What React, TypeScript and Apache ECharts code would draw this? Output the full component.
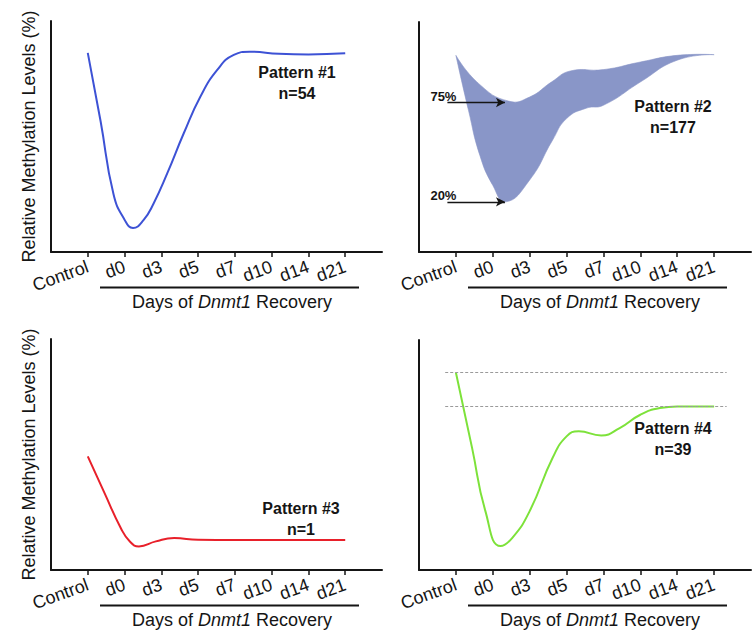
import React, { useEffect, useRef } from 'react';
import * as echarts from 'echarts';

// ---- data ----
const categories = ['Control', 'd0', 'd3', 'd5', 'd7', 'd10', 'd14', 'd21'];
const tickPositions = [0, 1, 2, 3, 4, 5, 6, 7];

// Pattern #1 (blue)
const p1X = [0, 0.35, 0.7, 1.0, 1.23, 1.52, 1.79, 2.16, 2.61, 3.06, 3.52, 3.97, 4.4, 5.2, 6, 7];
const p1Y = [86.2, 56.5, 25, 14, 10.4, 13.9, 21, 34, 51.4, 67.2, 78.8, 85.3, 86.7, 85.8, 85.5, 86];

// Pattern #2 (band between 75% and 20% curves)
const p2UpperX = [0, 0.62, 1.43, 2, 2.6, 3.1, 4, 5, 6, 7];
const p2UpperY = [85.5, 73.2, 65.6, 67.4, 74, 78.7, 79.3, 82.6, 85.5, 85.8];
const p2LowerX = [0, 0.34, 0.65, 1, 1.35, 2, 2.62, 3, 3.53, 4, 5, 6, 7];
const p2LowerY = [85.5, 61.7, 42, 29, 21.8, 31.3, 48.6, 58, 62.5, 63.8, 73.9, 83.4, 85.8];
const p2ArrowLabels = ['75%', '20%'];
const p2ArrowLevels = [65.0, 21.8];
const p2ArrowFrom = -0.23;
const p2ArrowTo = [1.33, 1.33];

// Pattern #3 (red)
const p3X = [0, 0.45, 0.9, 1.15, 1.39, 1.85, 2.35, 3, 4, 7];
const p3Y = [49.2, 33.5, 18.1, 12.2, 10.2, 12.4, 13.8, 13.1, 13, 13];

// Pattern #4 (green)
const p4X = [0, 0.44, 0.8, 1.21, 1.53, 2, 2.62, 3, 3.33, 3.94, 4.44, 5, 5.53, 6, 7];
const p4Y = [85.9, 53, 25.6, 10.4, 14, 25.6, 48.7, 58.1, 60.3, 58.5, 61.7, 67.5, 70.4, 71.1, 71.1];
const p4RefLevels = [85.9, 71.4];
const p4RefFrom = -0.29;
const p4RefTo = 7.34;

const patternTitles = ['Pattern #1', 'Pattern #2', 'Pattern #3', 'Pattern #4'];
const patternCounts = ['n=54', 'n=177', 'n=1', 'n=39'];

const yTitle = 'Relative Methylation Levels (%)';

// ---- layout ----
const FONT = '"Liberation Sans", Arial, Helvetica, sans-serif';
const INK = '#151515';
const SMOOTH = 0.5;
const grids = [
  { left: 51, top: 21, width: 331, height: 231 },
  { left: 419, top: 22, width: 332, height: 230 },
  { left: 51, top: 339, width: 331, height: 231 },
  { left: 419, top: 340, width: 332, height: 230 },
];
const patternPos = [
  [297, 82.5],
  [673, 116.7],
  [301, 518.7],
  [673, 439],
];

const pairs = (xs: number[], ys: number[]) => xs.map((x, i) => [x, ys[i]]);

// bezier control points (same scheme as ECharts line smoothing)
function controlPoints(pts: number[][], smooth: number) {
  const n = pts.length;
  const cin: number[][] = [];
  const cout: number[][] = [];
  for (let i = 0; i < n; i++) {
    const [x, y] = pts[i];
    if (i === 0 || i === n - 1) {
      cin[i] = [x, y];
      cout[i] = [x, y];
      continue;
    }
    const [px, py] = pts[i - 1];
    const [nx, ny] = pts[i + 1];
    const vx = nx - px;
    const vy = ny - py;
    const d0 = Math.hypot(x - px, y - py);
    const d1 = Math.hypot(nx - x, ny - y);
    const r = d1 / (d0 + d1 || 1);
    cin[i] = [x - vx * smooth * (1 - r), y - vy * smooth * (1 - r)];
    cout[i] = [x + vx * smooth * r, y + vy * smooth * r];
  }
  return { cin, cout };
}

function bandPath(up: number[][], lo: number[][], smooth: number) {
  const a = controlPoints(up, smooth);
  const b = controlPoints(lo, smooth);
  const f = (p: number[]) => p[0].toFixed(2) + ' ' + p[1].toFixed(2);
  let d = 'M' + f(up[0]);
  for (let i = 0; i < up.length - 1; i++) {
    d += ' C' + f(a.cout[i]) + ' ' + f(a.cin[i + 1]) + ' ' + f(up[i + 1]);
  }
  d += ' L' + f(lo[lo.length - 1]);
  for (let i = lo.length - 1; i > 0; i--) {
    d += ' C' + f(b.cin[i]) + ' ' + f(b.cout[i - 1]) + ' ' + f(lo[i - 1]);
  }
  d += ' Z';
  return d;
}

export default function App() {
  const ref = useRef<HTMLDivElement>(null);
  useEffect(() => {
    if (!ref.current) return;
    const chart = echarts.init(ref.current, null, { renderer: 'svg' });

    const xAxes = grids.map((_, i) => ({
      type: 'value',
      gridIndex: i,
      min: -1,
      max: 8,
      z: 10,
      splitLine: { show: false },
      axisLine: { show: true, onZero: false, lineStyle: { color: INK, width: 2 } },
      axisTick: { show: true, customValues: tickPositions, length: 5, lineStyle: { color: INK, width: 1.5 } },
      axisLabel: {
        show: true,
        customValues: tickPositions,
        formatter: (v: number) => categories[Math.round(v)] ?? '',
        rotate: 20,
        margin: 14,
        fontSize: 18,
        fontFamily: FONT,
        color: INK,
      },
    }));

    const yAxes = grids.map((_, i) => ({
      type: 'value',
      gridIndex: i,
      min: 0,
      max: 100,
      z: 10,
      splitLine: { show: false },
      axisTick: { show: false },
      axisLabel: { show: false },
      axisLine: { show: true, onZero: false, lineStyle: { color: INK, width: 2 } },
      name: i % 2 === 0 ? yTitle : '',
      nameLocation: 'middle',
      nameGap: 13,
      nameTextStyle: { fontSize: 18, fontFamily: FONT, color: INK },
    }));

    const lineBase = (i: number, color: string, data: number[][]) => ({
      type: 'line',
      xAxisIndex: i,
      yAxisIndex: i,
      data,
      smooth: SMOOTH,
      symbol: 'none',
      lineStyle: { color, width: 2 },
      silent: true,
    });

    const series: any[] = [
      lineBase(0, '#3d52d5', pairs(p1X, p1Y)),
      {
        type: 'custom',
        xAxisIndex: 1,
        yAxisIndex: 1,
        data: [[0, 0]],
        silent: true,
        renderItem: (_params: any, api: any) => {
          const up = p2UpperX.map((x, k) => api.coord([x, p2UpperY[k]]));
          const lo = p2LowerX.map((x, k) => api.coord([x, p2LowerY[k]]));
          return {
            type: 'path',
            shape: { pathData: bandPath(up, lo, SMOOTH) },
            style: { fill: '#8996c8', stroke: '#8996c8', lineWidth: 0.6 },
          };
        },
        markLine: {
          silent: true,
          symbol: ['none', 'arrow'],
          symbolSize: [7, 9],
          lineStyle: { color: INK, width: 1.3, type: 'solid' },
          label: { show: false },
          data: p2ArrowLevels.map((lv, k) => [
            { coord: [p2ArrowFrom, lv] },
            { coord: [p2ArrowTo[k], lv] },
          ]),
        },
        markPoint: {
          silent: true,
          symbol: 'circle',
          symbolSize: 0,
          label: {
            show: true,
            position: 'right',
            offset: [-22, -6],
            fontSize: 13,
            fontWeight: 'bold',
            fontFamily: FONT,
            color: INK,
            formatter: (p: any) => p.name,
          },
          data: p2ArrowLevels.map((lv, k) => ({ name: p2ArrowLabels[k], coord: [p2ArrowFrom, lv] })),
        },
      },
      lineBase(2, '#e8202a', pairs(p3X, p3Y)),
      {
        ...lineBase(3, '#7de23a', pairs(p4X, p4Y)),
        markLine: {
          silent: true,
          symbol: ['none', 'none'],
          lineStyle: { color: '#9a9a9a', width: 1, type: [3, 2] },
          label: { show: false },
          data: p4RefLevels.map((lv) => [
            { coord: [p4RefFrom, lv] },
            { coord: [p4RefTo, lv] },
          ]),
        },
      },
    ];

    const graphic: any[] = [];
    grids.forEach((g, i) => {
      const bottom = g.top + g.height;
      graphic.push({
        type: 'line',
        shape: { x1: g.left + 49, y1: bottom + 35.5, x2: g.left + 308, y2: bottom + 35.5 },
        style: { stroke: INK, lineWidth: 1.8 },
        silent: true,
      });
      graphic.push({
        type: 'text',
        x: g.left + 181,
        y: bottom + 50,
        silent: true,
        style: {
          text: '{a|Days of }{b|Dnmt1}{a| Recovery}',
          align: 'center',
          verticalAlign: 'middle',
          fill: INK,
          rich: {
            a: { fontSize: 18, fontFamily: FONT, fill: INK },
            b: { fontSize: 18, fontFamily: FONT, fontStyle: 'italic', fill: INK },
          },
        },
      });
      graphic.push({
        type: 'text',
        x: patternPos[i][0],
        y: patternPos[i][1],
        silent: true,
        style: {
          text: patternTitles[i] + '\n' + patternCounts[i],
          align: 'center',
          verticalAlign: 'middle',
          fontSize: 16,
          fontWeight: 'bold',
          fontFamily: FONT,
          lineHeight: 21,
          fill: INK,
        },
      });
    });

    chart.setOption({
      animation: false,
      backgroundColor: '#ffffff',
      grid: grids.map((g) => ({ ...g, containLabel: false })),
      xAxis: xAxes,
      yAxis: yAxes,
      series,
      graphic,
    });
    return () => chart.dispose();
  }, []);

  return (
    <div
      ref={ref}
      style={{ width: 756, height: 637, position: 'absolute', left: 0, top: 0 }}
    />
  );
}
